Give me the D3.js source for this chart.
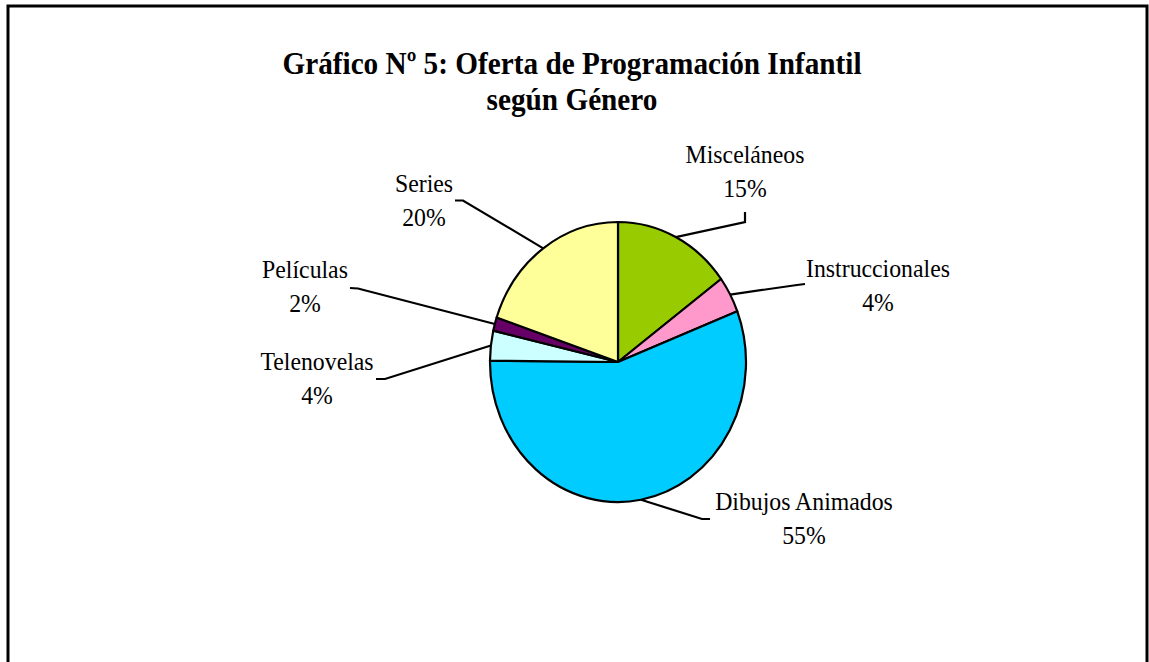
<!DOCTYPE html>
<html>
<head>
<meta charset="utf-8">
<script src="https://cdn.jsdelivr.net/npm/d3@7"></script>
<style>
  body { margin: 0; background: #fff; }
  text { font-family: "Liberation Serif", "Times New Roman", serif; fill: #000; }
</style>
</head>
<body>
<div id="chart"></div>
<script>
  const genres = ["Misceláneos", "Instruccionales", "Dibujos Animados", "Telenovelas", "Películas", "Series"]
  const shares = [14.9, 4.2, 56.05, 3.45, 1.55, 19.85]
  const pctLabels = ["15%", "4%", "55%", "4%", "2%", "20%"]
  const colors = ["#99CC00", "#FF99CC", "#00CCFF", "#CCFFFF", "#660066", "#FFFF99"]
  const titleLines = ["Gráfico Nº 5: Oferta de Programación Infantil", "según Género"]

  // label layout, offsets from pie centre
  const labelAt = [[127, -199], [260, -85], [186, 148], [-301, 8], [-313, -84], [-194, -170]]
  const leaderAt = [
    [[127, -150], [127, -140]],
    [[187, -78], [179, -77]],
    [[92, 157], [84, 157]],
    [[-242, 17], [-233, 17]],
    [[-268, -74], [-260, -73.5]],
    [[-163, -161.5], [-155, -161.5]]
  ]

  const width = 1149
  const height = 662
  const cx = 618, cy = 362
  const rx = 128, ry = 140
  const sx = rx / ry   // the source is squeezed sideways

  const svg = d3.select("#chart").append("svg")
    .attr("width", width)
    .attr("height", height)

  // frame (bottom edge runs off the page)
  svg.append("path")
    .attr("d", `M8,${height + 10}V6H1147V${height + 10}`)
    .attr("fill", "none")
    .attr("stroke", "#000")
    .attr("stroke-width", 3)

  svg.append("g").selectAll("text")
    .data(titleLines)
    .join("text")
      .attr("transform", (d, i) => `translate(572,${74 + i * 36}) scale(${sx},1)`)
      .attr("text-anchor", "middle")
      .attr("font-size", "32px")
      .attr("font-weight", "bold")
      .text(d => d)

  const pie = d3.pie().sort(null).value(d => d)
  const arcs = pie(shares)
  const arc = d3.arc().innerRadius(0).outerRadius(rx)

  svg.append("g")
    .attr("transform", `translate(${cx},${cy}) scale(1,${ry / rx})`)
    .selectAll("path")
    .data(arcs)
    .join("path")
      .attr("d", arc)
      .attr("fill", (d, i) => colors[i])
      .attr("stroke", "#000")
      .attr("stroke-width", 2.2)
      .attr("stroke-linejoin", "round")
      .attr("vector-effect", "non-scaling-stroke")

  // leader lines: from label elbow to the middle of the slice's rim
  const rim = d => {
    const a = (d.startAngle + d.endAngle) / 2
    return [rx * Math.sin(a), -ry * Math.cos(a)]
  }
  const line = d3.line()

  const g = svg.append("g").attr("transform", `translate(${cx},${cy})`)

  g.selectAll("path.leader")
    .data(arcs)
    .join("path")
      .attr("class", "leader")
      .attr("d", (d, i) => line([...leaderAt[i], rim(d)]))
      .attr("fill", "none")
      .attr("stroke", "#000")
      .attr("stroke-width", 2.2)

  const lab = g.selectAll("g.lab")
    .data(arcs)
    .join("g")
      .attr("class", "lab")
      .attr("transform", (d, i) => `translate(${labelAt[i][0]},${labelAt[i][1]}) scale(${sx},1)`)

  lab.append("text")
    .attr("text-anchor", "middle")
    .attr("font-size", "26px")
    .text((d, i) => genres[i])

  lab.append("text")
    .attr("text-anchor", "middle")
    .attr("font-size", "26px")
    .attr("y", 34)
    .text((d, i) => pctLabels[i])
</script>
</body>
</html>
